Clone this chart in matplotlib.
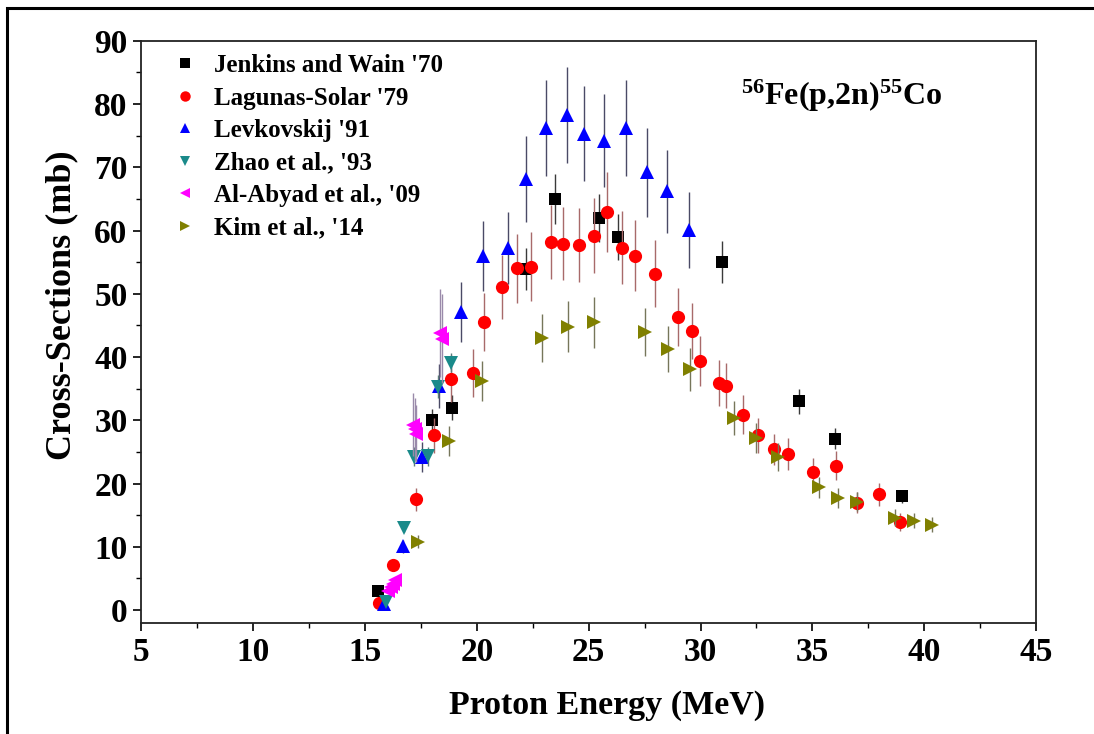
import matplotlib
matplotlib.use("Agg")
import matplotlib.pyplot as plt
from matplotlib.ticker import MultipleLocator
from matplotlib.patches import Rectangle
from matplotlib.lines import Line2D

plt.rcParams['font.family'] = ['Liberation Serif', 'DejaVu Serif']
plt.rcParams['font.weight'] = 'bold'
plt.rcParams['mathtext.fontset'] = 'custom'
plt.rcParams['mathtext.rm'] = 'Liberation Serif:bold'
plt.rcParams['mathtext.bf'] = 'Liberation Serif:bold'
plt.rcParams['mathtext.default'] = 'rm'

# ---------------- data ----------------
jenkins_x = [15.6, 17.98, 18.89, 22.2, 23.49, 25.46, 26.3, 30.96, 34.41, 36.0, 39.02]
jenkins_y = [3.0, 30.0, 32.0, 53.9, 65.0, 62.0, 59.0, 55.0, 33.0, 27.1, 18.0]
jenkins_err = [0.5, 1.8, 2.0, 3.3, 4.0, 3.8, 3.6, 3.3, 2.0, 1.7, 1.0]

lagunas_x = [15.63, 16.27, 17.27, 18.08, 18.83, 19.81, 20.33, 21.11, 21.81, 22.41,
             23.3, 23.84, 24.58, 25.25, 25.82, 26.49, 27.06, 27.96, 28.98, 29.62,
             29.98, 30.84, 31.12, 31.91, 32.58, 33.3, 33.93, 35.04, 36.04, 37.0,
             38.0, 38.92]
lagunas_y = [1.1, 7.2, 17.5, 27.6, 36.6, 37.5, 45.6, 51.1, 54.0, 54.3,
             58.2, 57.9, 57.7, 59.2, 62.9, 57.3, 56.0, 53.2, 46.3, 44.1,
             39.4, 35.9, 35.5, 30.9, 27.6, 25.4, 24.7, 21.9, 22.8, 17.0,
             18.3, 13.9]
lagunas_err = [0.1, 0.7, 1.8, 2.8, 3.7, 3.8, 4.6, 5.1, 5.4, 5.4,
               5.8, 5.8, 5.8, 5.9, 6.3, 5.8, 5.6, 5.3, 4.6, 4.4,
               3.9, 3.6, 3.6, 3.1, 2.8, 2.5, 2.5, 2.2, 2.3, 1.7,
               1.8, 1.4]

levk_x = [15.85, 16.69, 17.54, 18.32, 19.29, 20.29, 21.4, 22.2, 23.09, 24.03,
          24.79, 25.68, 26.67, 27.6, 28.49, 29.5]
levk_y = [1.0, 10.1, 24.2, 35.4, 47.1, 56.0, 57.2, 68.1, 76.2, 78.2,
          75.3, 74.2, 76.2, 69.2, 66.2, 60.1]
levk_err = [0.1, 1.0, 2.4, 3.5, 4.7, 5.5, 5.7, 6.8, 7.6, 7.6,
            7.5, 7.4, 7.6, 7.0, 6.6, 6.0]

zhao_x = [15.94, 16.76, 17.19, 17.83, 18.25, 18.86]
zhao_y = [1.2, 13.0, 24.2, 24.3, 35.3, 39.1]
zhao_err = [0.1, 0.6, 1.5, 1.5, 1.8, 1.5]

abyad_x = [16.05, 16.15, 16.25, 16.35, 17.15, 17.22, 17.3, 18.35, 18.45]
abyad_y = [3.0, 3.6, 4.2, 4.8, 29.3, 28.6, 27.9, 43.8, 42.9]
abyad_err = [0.3, 0.4, 0.4, 0.5, 5.0, 5.0, 4.5, 7.0, 7.0]

kim_x = [17.38, 18.77, 20.22, 22.9, 24.09, 25.24, 27.53, 28.53, 29.53, 31.5,
         32.48, 33.45, 35.29, 36.16, 37.0, 38.69, 39.54, 40.33]
kim_y = [10.8, 26.7, 36.2, 43.0, 44.8, 45.5, 43.9, 41.3, 38.1, 30.4,
         27.2, 24.2, 19.4, 17.7, 17.1, 14.6, 14.1, 13.5]
kim_err = [1.0, 2.4, 3.2, 3.8, 4.0, 4.0, 3.8, 3.6, 3.4, 2.7,
           2.4, 2.2, 1.7, 1.6, 1.5, 1.3, 1.2, 1.2]

labels = ["Jenkins and Wain '70", "Lagunas-Solar '79", "Levkovskij '91",
          "Zhao et al., '93", "Al-Abyad et al., '09", "Kim et al., '14"]
x_ticks = [5, 10, 15, 20, 25, 30, 35, 40, 45]
y_ticks = [0, 10, 20, 30, 40, 50, 60, 70, 80, 90]

# ---------------- figure ----------------
fig = plt.figure(figsize=(10.94, 7.34), dpi=100)
ax = fig.add_axes([0.1292, 0.1516, 0.8178, 0.7929])

# outer page frame
fig.patches.append(Rectangle((7 / 1094, -0.05), 1.1, 1.05 - 8 / 734,
                             transform=fig.transFigure, fill=False,
                             edgecolor='black', linewidth=2.2, zorder=0))

series = [
    (jenkins_x, jenkins_y, jenkins_err, 's', 'black', '#3a3a3a', 8.5),
    (lagunas_x, lagunas_y, lagunas_err, 'o', 'red', '#a86a6a', 9.5),
    (levk_x, levk_y, levk_err, '^', 'blue', '#4a4a66', 10),
    (zhao_x, zhao_y, zhao_err, 'v', '#1a8a8a', '#5a7a7a', 10),
    (abyad_x, abyad_y, abyad_err, '<', '#ff00ff', '#9a8aaa', 10),
    (kim_x, kim_y, kim_err, '>', '#808000', '#76765a', 10),
]

handles = []
for i, (xs, ys, es, mk, col, ecol, ms) in enumerate(series):
    ax.errorbar(xs, ys, yerr=es, fmt=mk, color=col, ecolor=ecol, elinewidth=1.0,
                capsize=5, capthick=1.0, markersize=ms, markeredgewidth=0,
                zorder=3 + i)
    handles.append(Line2D([], [], linestyle='none', marker=mk, color=col,
                          markersize=7.5 if mk != 's' else 6.5,
                          markeredgewidth=0, label=labels[i]))

ax.set_xlim(5, 45)
ax.set_ylim(-2, 90)
ax.set_xticks(x_ticks)
ax.set_yticks(y_ticks)
ax.xaxis.set_minor_locator(MultipleLocator(2.5))
ax.yaxis.set_minor_locator(MultipleLocator(5))
ax.tick_params(which='major', direction='out', length=6, width=1.2,
               labelsize=24, pad=4, top=False, right=False)
ax.tick_params(which='minor', direction='out', length=3.5, width=1.0,
               top=False, right=False)
for lab in ax.get_xticklabels() + ax.get_yticklabels():
    lab.set_fontweight('bold')
for sp in ax.spines.values():
    sp.set_linewidth(1.3)
    sp.set_color('#222222')

ax.set_xlabel('Proton Energy (MeV)', fontsize=24.5, fontweight='bold')
ax.set_ylabel('Cross-Sections (mb)', fontsize=26, fontweight='bold')
ax.xaxis.set_label_coords(0.52, -0.115)
ax.yaxis.set_label_coords(-0.07, 0.545)

ax.text(0.895, 0.905, r'$^{56}$Fe(p,2n)$^{55}$Co', transform=ax.transAxes,
        fontsize=23, fontweight='bold', ha='right', va='center')

leg = ax.legend(handles=handles, loc='upper left', frameon=False, fontsize=18,
                handletextpad=0.55, labelspacing=0.38, borderaxespad=0.0,
                borderpad=0.3, handlelength=1.2, bbox_to_anchor=(0.024, 0.99))

fig.savefig('out.png', dpi=100)
